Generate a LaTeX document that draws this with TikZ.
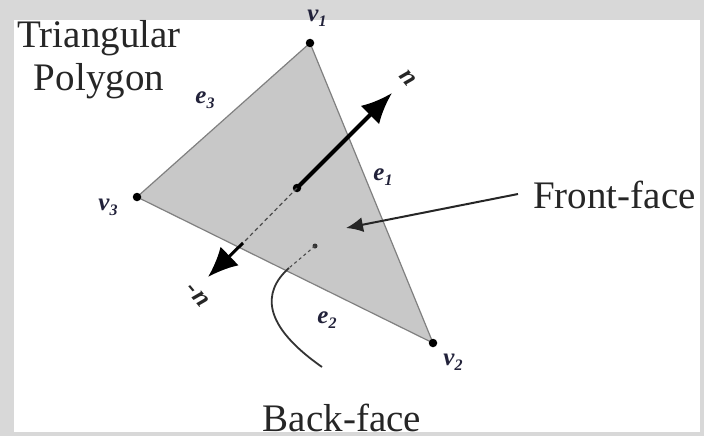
\documentclass[tikz,border=0pt]{standalone}
\usepackage{fontspec}
\setmainfont{Liberation Serif}
\usetikzlibrary{arrows.meta}
\definecolor{frame}{HTML}{D8D8D8}
\definecolor{face}{HTML}{C8C8C8}
\definecolor{edge}{HTML}{808080}
\definecolor{labc}{HTML}{22223A}
\newcommand{\lbl}[2]{\itshape\bfseries #1\raisebox{-5pt}{\fontsize{16}{16}\selectfont #2}}
\tikzset{
  bigtext/.style={font=\fontsize{39}{43}\selectfont, inner sep=0pt, text=black!85},
  smalllab/.style={font=\fontsize{25}{25}\selectfont, text=labc, inner sep=0pt},
  nlab/.style={font=\fontsize{26}{26}\selectfont\bfseries\itshape, rotate=-50, inner sep=0pt, text=black!85},
  vdot/.style={circle, fill=black, inner sep=0pt, minimum size=8.5pt},
  sdot/.style={circle, fill=black!80, inner sep=0pt, minimum size=5pt},
}
\begin{document}
\begin{tikzpicture}[x=1pt,y=-1pt]
\useasboundingbox (0,0) rectangle (704,436);
\fill[frame] (0,0) rectangle (704,436);
\fill[white] (14,20) rectangle (700,432);
% vertices
\coordinate (v1) at (310,43);
\coordinate (v2) at (433,343);
\coordinate (v3) at (137,197);
\filldraw[fill=face, draw=edge, line width=1.2pt, line join=round] (v1) -- (v2) -- (v3) -- cycle;
% normal arrows
\node[vdot] (c) at (297,188) {};
\coordinate (ntip) at (392,93);
\draw[line width=4pt, -{Latex[length=31pt,width=26pt]}] (c.center) -- (ntip);
\coordinate (dend) at (243,243);
\draw[black!70, line width=1.2pt, dash pattern=on 4pt off 3pt] (c.center) -- (dend);
\coordinate (mtip) at (208,277);
\draw[line width=3pt, -{Latex[length=30pt,width=26pt]}] (dend) -- (mtip);
% front-face arrow
\node[bigtext, anchor=base west] (ff) at (533,208) {Front-face};
\coordinate (fftip) at (346,228);
\draw[line width=2pt, black!85, -{Latex[length=17pt,width=15pt]}] (518,194) -- (fftip);
% back-face
\node[sdot] (b) at (315,246) {};
\coordinate (bc) at (289,268);
\draw[black!70, line width=1.1pt, dash pattern=on 3pt off 3pt] (b.center) -- (bc);
\node[bigtext, anchor=base] (bf) at (342,431) {Back-face};
\draw[black!80, line width=1.8pt] (bc) .. controls (262,292) and (262,325) .. (322,367);
% vertex dots
\node[vdot] at (v1) {};
\node[vdot] at (v2) {};
\node[vdot] at (v3) {};
% title
\node[bigtext, align=center, anchor=base] (tp) at (99,90) {Triangular\\Polygon};
% labels
\node[smalllab] (l1) at (317,18) {\lbl{v}{1}};
\node[smalllab] (l2) at (453,362) {\lbl{v}{2}};
\node[smalllab] (l3) at (108,207) {\lbl{v}{3}};
\node[smalllab] (le1) at (383,177) {\lbl{e}{1}};
\node[smalllab] (le2) at (327,320) {\lbl{e}{2}};
\node[smalllab] (le3) at (205,100) {\lbl{e}{3}};
\node[nlab] (nl) at (408,78) {n};
\node[nlab] (nml) at (197,295) {-\kern2pt n};
\end{tikzpicture}
\end{document}
